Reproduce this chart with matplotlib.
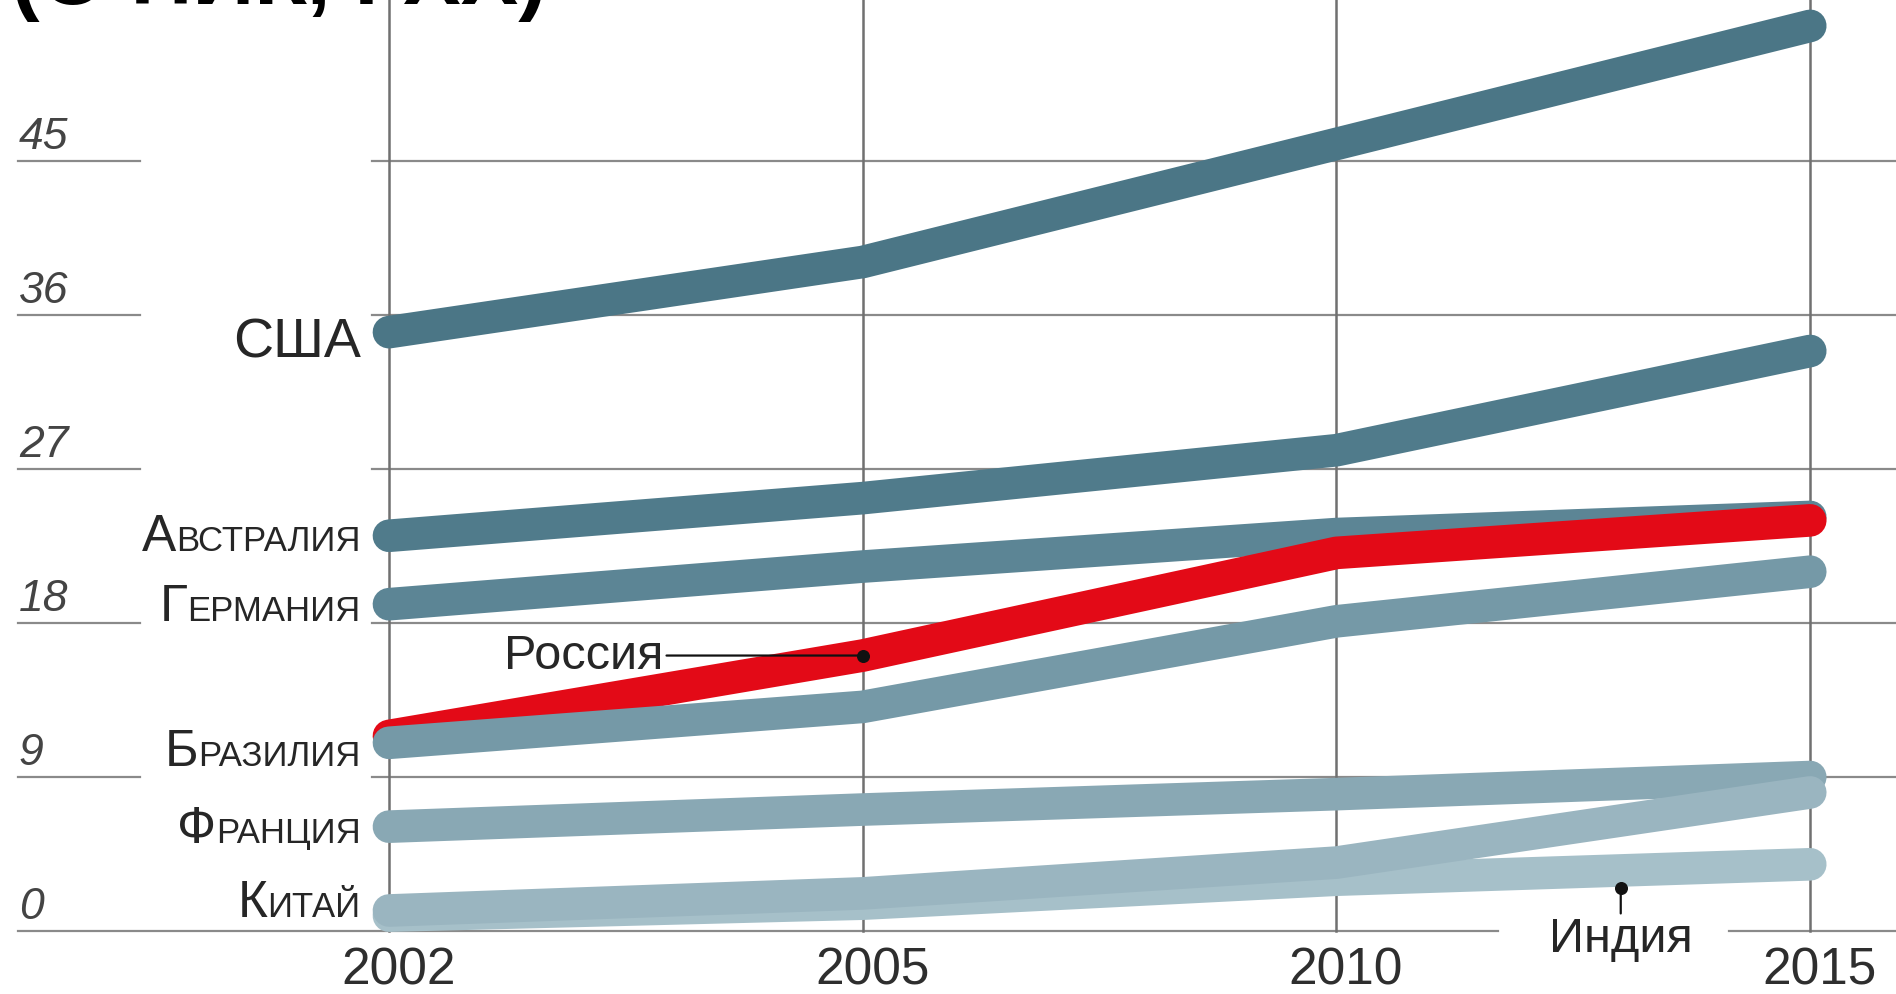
import numpy as np
import matplotlib
matplotlib.use('Agg')
import matplotlib.pyplot as plt

plt.rcParams['font.family'] = ['Liberation Sans', 'DejaVu Sans']

# Data
years = ['2002', '2005', '2010', '2015']
usa       = [35.0, 39.1, 46.0, 52.9]
australia = [23.1, 25.3, 28.1, 33.9]
germany   = [19.1, 21.3, 23.2, 24.2]
russia    = [11.4, 16.1, 22.1, 24.0]
brazil    = [11.0, 13.1, 18.1, 21.0]
france    = [6.1, 7.1, 8.0, 9.0]
china     = [1.2, 2.2, 4.0, 8.1]
india     = [0.9, 1.6, 3.0, 3.9]
yticks = [0, 9, 18, 27, 36, 45]

# Series drawn back to front: name, values, colour, small caps label, label offset
series = [
    ('США',       usa,       '#4b7686', False, -1.45),
    ('Австралия', australia, '#507b8b', True,  -0.85),
    ('Германия',  germany,   '#5c8595', True,  -0.9),
    ('Россия',    russia,    '#e30a17', None,  None),
    ('Бразилия',  brazil,    '#7599a7', True,  -1.3),
    ('Франция',   france,    '#89a8b4', True,  -0.9),
    ('Индия',     india,     '#a6c0c9', None,  None),
    ('Китай',     china,     '#9ab5c0', True,  -0.3),
]
txt_col = '#262626'

fig = plt.figure(figsize=(18.96, 9.95), dpi=100)
ax = fig.add_axes([0, 0, 1, 1])
ax.set_xlim(-0.821, 3.181)
ax.set_ylim(-3.68, 54.47)
ax.axis('off')
x = np.arange(len(years))

# grid: horizontal lines with a gap behind the country labels
for v in yticks:
    if v == 0:
        ax.axhline(v, 0.0095, 0.79, color='#8a8a8a', lw=1.6, zorder=1)
        ax.axhline(v, 0.912, 1.0, color='#8a8a8a', lw=1.6, zorder=1)
    else:
        ax.axhline(v, 0.0095, 0.074, color='#8a8a8a', lw=1.6, zorder=1)
        ax.axhline(v, 0.196, 1.0, color='#8a8a8a', lw=1.6, zorder=1)
    ax.text(0.01, v + 0.75, str(v), transform=ax.get_yaxis_transform(),
            fontsize=32, style='italic', color='#444444', ha='left', va='baseline')
ylo, yhi = ax.get_ylim()
for xi in x:
    ax.axvline(xi, ymin=(0 - ylo) / (yhi - ylo), ymax=1,
               color='#707070', lw=1.8, zorder=1)
for xi, lab in zip(x, years):
    ax.text(xi + 0.02, -2.25, lab, fontsize=37, color='#2e2e2e', ha='center', va='center',
            family=['Liberation Sans Narrow', 'Liberation Sans'])

for name, vals, col, sc, off in series:
    ax.plot(x, vals, color=col, lw=23.5, solid_capstyle='round',
            solid_joinstyle='round', zorder=3)

fig.canvas.draw()
lab_x = -0.06
for name, vals, col, sc, off in series:
    if sc is None:
        continue
    y0 = vals[0] + off
    if not sc:
        ax.text(lab_x, y0, name, fontsize=40, color=txt_col, ha='right', va='baseline')
        continue
    rest = ax.text(lab_x, y0, name[1:].upper(), fontsize=25, color=txt_col,
                   ha='right', va='baseline')
    bb = rest.get_window_extent(renderer=fig.canvas.get_renderer())
    x0 = ax.transData.inverted().transform((bb.x0, bb.y0))[0]
    ax.text(x0, y0, name[0], fontsize=37, color=txt_col, ha='right', va='baseline')

# Россия pointer
ax.annotate('Россия', xy=(x[1], russia[1]), xytext=(0.58, russia[1]),
            fontsize=35, color=txt_col, ha='right', va='center',
            arrowprops=dict(arrowstyle='-', color='#111111', lw=1.6,
                            shrinkA=0, shrinkB=0), zorder=5)
ax.scatter([x[1]], [russia[1]], s=70, color='#111111', zorder=6)

# Индия pointer
ind_x = 2.6
ax.annotate('Индия', xy=(ind_x, 2.5), xytext=(ind_x, -0.45),
            fontsize=35, color=txt_col, ha='center', va='center',
            arrowprops=dict(arrowstyle='-', color='#111111', lw=1.6,
                            shrinkA=22, shrinkB=0), zorder=5)
ax.scatter([ind_x], [2.5], s=70, color='#111111', zorder=6)

# cut-off heading at the very top
fig.text(0.006, 1 - 4 / 995, '(О ПИК, ГХХ)', fontsize=62, fontweight='bold',
         color='black', ha='left', va='baseline')

fig.savefig('out.png', dpi=100)
